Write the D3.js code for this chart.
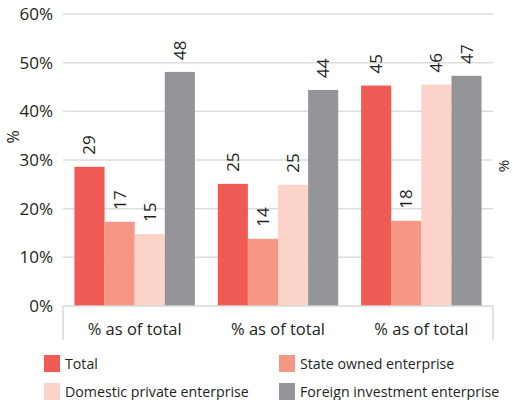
<!DOCTYPE html>
<html>
<head>
<meta charset="utf-8">
<title>Enterprise share chart</title>
<style>
  * { margin: 0; padding: 0; }
  body { background: #fff; }
  svg text { font-family: "Open Sans", "Noto Sans", sans-serif; fill: #231f20; }
</style>
</head>
<body>
<svg id="chart" width="513" height="400"></svg>
<script src="https://cdn.jsdelivr.net/npm/d3@7"></script>
<script>
// data
const categories = ["% as of total", "% as of total", "% as of total"];
const seriesNames = ["Total", "State owned enterprise", "Domestic private enterprise", "Foreign investment enterprise"];
const seriesColors = ["#ef5a55", "#f69785", "#fbd3c9", "#939598"];
const values = [
  [28.6, 17.3, 14.8, 48.1],
  [25.1, 13.8, 24.9, 44.4],
  [45.3, 17.5, 45.5, 47.3]
];
const labels = [
  ["29", "17", "15", "48"],
  ["25", "14", "25", "44"],
  ["45", "18", "46", "47"]
];
const yTicks = [0, 10, 20, 30, 40, 50, 60];

const svg = d3.select("#chart");
const plot = { left: 63, right: 493, top: 14, bottom: 306 };

const x0 = d3.scaleBand().domain(d3.range(categories.length)).range([plot.left, plot.right]).padding(0);
const x1 = d3.scaleBand().domain(d3.range(seriesNames.length))
  .range([0, x0.bandwidth()]).paddingOuter(0.38).paddingInner(0);
const y = d3.scaleLinear().domain([0, 60]).range([plot.bottom, plot.top]);

// gridlines
svg.append("g").selectAll("line").data(yTicks.filter(d => d > 0)).join("line")
  .attr("x1", plot.left).attr("x2", plot.right)
  .attr("y1", d => y(d)).attr("y2", d => y(d))
  .attr("stroke", "#dcdcdc").attr("stroke-width", 1.5);

// y tick labels
svg.append("g").selectAll("text").data(yTicks).join("text")
  .attr("x", 53).attr("y", d => y(d)).attr("dy", "0.35em")
  .attr("text-anchor", "end").attr("font-size", 17)
  .text(d => d + "%");

// bars
const groups = svg.append("g").selectAll("g").data(values).join("g")
  .attr("transform", (d, i) => `translate(${x0(i)},0)`);
groups.selectAll("rect").data(d => d).join("rect")
  .attr("x", (d, j) => x1(j)).attr("width", x1.bandwidth())
  .attr("y", d => y(d)).attr("height", d => y(0) - y(d))
  .attr("fill", (d, j) => seriesColors[j]);

// value labels
groups.selectAll("text").data((d, i) => d.map((v, j) => ({ v, j, t: labels[i][j] }))).join("text")
  .attr("transform", d => `translate(${x1(d.j) + x1.bandwidth() / 2 + 6},${y(d.v) - 12}) rotate(-90)`)
  .attr("font-size", 17)
  .text(d => d.t);

// category axis box
const ax = svg.append("g").attr("stroke", "#d9d9d9").attr("stroke-width", 1.5);
ax.append("line").attr("x1", plot.left).attr("x2", plot.right).attr("y1", plot.bottom).attr("y2", plot.bottom);
ax.append("line").attr("x1", plot.left).attr("x2", plot.left).attr("y1", plot.bottom).attr("y2", 340);
ax.append("line").attr("x1", plot.right).attr("x2", plot.right).attr("y1", plot.bottom).attr("y2", 340);

svg.append("g").selectAll("text").data(categories).join("text")
  .attr("x", (d, i) => x0(i) + x0.bandwidth() / 2).attr("y", 335)
  .attr("text-anchor", "middle").attr("font-size", 16.5)
  .text(d => d);

// axis titles
svg.append("text").attr("transform", "translate(19,137) rotate(-90)")
  .attr("text-anchor", "middle").attr("font-size", 16).text("%");
svg.append("text").attr("transform", "translate(509,166) rotate(-90)")
  .attr("text-anchor", "middle").attr("font-size", 15).text("%");

// legend
const legendPos = [[44, 355], [279, 355], [44, 383], [279, 383]];
const lg = svg.append("g").selectAll("g").data(seriesNames).join("g")
  .attr("transform", (d, i) => `translate(${legendPos[i][0]},${legendPos[i][1]})`);
lg.append("rect").attr("width", 16).attr("height", 17).attr("fill", (d, i) => seriesColors[i]);
lg.append("text").attr("x", 21).attr("y", 14).attr("font-size", 14.2).text(d => d);
</script>
</body>
</html>
